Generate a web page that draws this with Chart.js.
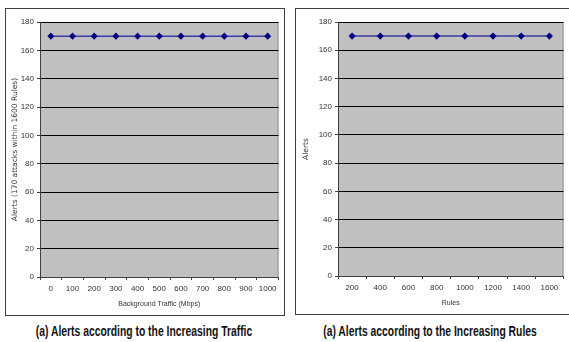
<!DOCTYPE html>
<html>
<head>
<meta charset="utf-8">
<script src="https://cdn.jsdelivr.net/npm/chart.js@4"></script>
<style>
  body { margin: 0; background: #fff; width: 569px; height: 342px; position: relative; overflow: hidden; }
  .panel { position: absolute; border: 1px solid #404040; background: #fff; }
  .caption { position: absolute; top: 322px; font-family: "Liberation Sans", sans-serif; font-size: 15px; font-weight: bold; color: #111; white-space: nowrap; transform: translateX(-50%) scaleX(0.69); }
</style>
</head>
<body>
<div class="panel" style="left:5px; top:8px; width:278px; height:306px;">
  <canvas id="traffic-chart" width="278" height="306"></canvas>
</div>
<div class="panel" style="left:295px; top:8px; width:280px; height:305px;">
  <canvas id="rules-chart" width="273" height="305"></canvas>
</div>
<div class="caption" style="left:144px;">(a) Alerts according to the Increasing Traffic</div>
<div class="caption" style="left:430px;">(a) Alerts according to the Increasing Rules</div>
<script>
// Data
const trafficLabels = ['0', '100', '200', '300', '400', '500', '600', '700', '800', '900', '1000'];
const trafficAlerts = [170, 170, 170, 170, 170, 170, 170, 170, 170, 170, 170];

const ruleLabels = ['200', '400', '600', '800', '1000', '1200', '1400', '1600'];
const ruleAlerts = [170, 170, 170, 170, 170, 170, 170, 170];

const yTicks = [0, 20, 40, 60, 80, 100, 120, 140, 160, 180];

// Gray plot area like the old spreadsheet charts
const plotBackground = {
    id: 'plotBackground',
    beforeDraw(chart) {
        const { ctx, chartArea: a } = chart;
        ctx.save();
        ctx.fillStyle = '#c0c0c0';
        ctx.fillRect(a.left, a.top, a.right - a.left, a.bottom - a.top);
        ctx.strokeStyle = '#909090';
        ctx.lineWidth = 1;
        ctx.strokeRect(a.left + 0.5, a.top + 0.5, a.right - a.left - 1, a.bottom - a.top);
        ctx.restore();
    },
};

function makeChart(id, labels, values, yTitle, xTitle, yWidth, padRight, titlePad) {
    const tickFont = { family: 'Liberation Sans', size: 8 };
    return new Chart(document.getElementById(id), {
        type: 'line',
        data: {
            labels: labels,
            datasets: [{
                data: values,
                borderColor: '#3a3aa8',
                borderWidth: 1.5,
                pointStyle: 'rectRot',
                pointRadius: 2.5,
                pointBackgroundColor: '#000080',
                pointBorderColor: '#000080',
                fill: false,
            }],
        },
        options: {
            responsive: false,
            animation: false,
            layout: { padding: { top: 13, right: padRight, left: 0, bottom: 0 } },
            plugins: { legend: { display: false }, tooltip: { enabled: false } },
            scales: {
                x: {
                    offset: true,
                    grid: { offset: true, drawOnChartArea: false, tickLength: 3, color: '#404040' },
                    border: { color: '#404040' },
                    ticks: { color: '#333', font: tickFont, padding: 4, maxRotation: 0 },
                    title: { display: true, text: xTitle, color: '#333', font: { family: 'Liberation Sans', size: 7 }, padding: { top: 4, bottom: 7 } },
                    afterFit: (scale) => { scale.height = 38; },
                },
                y: {
                    min: 0,
                    max: 180,
                    afterBuildTicks: (scale) => { scale.ticks = yTicks.map(v => ({ value: v })); },
                    grid: { color: '#000', tickLength: 3, tickColor: '#404040' },
                    border: { color: '#404040' },
                    ticks: { color: '#333', font: tickFont, padding: 3 },
                    title: { display: true, text: yTitle, color: '#333', font: { family: 'DejaVu Sans', size: 7.5 }, padding: titlePad },
                    afterFit: (scale) => { scale.width = yWidth; },
                },
            },
        },
        plugins: [plotBackground],
    });
}

makeChart('traffic-chart', trafficLabels, trafficAlerts, 'Alerts (170 attacks within 1600 Rules)', 'Background Traffic (Mbps)', 34, 3, { top: 5, bottom: 0 });
makeChart('rules-chart', ruleLabels, ruleAlerts, 'Alerts', 'Rules', 42, 1, { top: 6, bottom: 0 });
</script>
</body>
</html>
